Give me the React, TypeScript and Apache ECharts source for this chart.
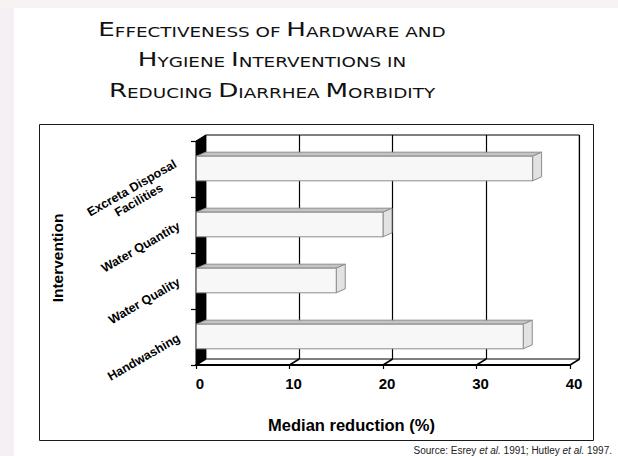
import React, { useEffect, useRef } from "react";
import * as echarts from "echarts";

const categories = ["Excreta Disposal\nFacilities", "Water Quantity", "Water Quality", "Handwashing"];
const reductions = [36, 20, 15, 35];
const xTicks = [0, 10, 20, 30, 40];
const titleLines = ["Effectiveness of Hardware and", "Hygiene Interventions in", "Reducing Diarrhea Morbidity"];
const xAxisName = "Median reduction (%)";
const yAxisName = "Intervention";
const sourceText = "{n|Source: Esrey }{i|et al.}{n| 1991; Hutley }{i|et al.}{n| 1997.}";

const FONT = "'Liberation Sans', Arial, sans-serif";
const TITLE_FONT = "'DejaVu Sans', sans-serif";
// 3D offsets
const WX = 9.7, WY = -6; // wall/floor depth
const BX = 9, BY = -4; // bar depth

function smallCaps(s: string): string {
  let out = "";
  let cur = "";
  let curType = "";
  const flush = () => {
    if (cur) out += `{${curType}|${cur}}`;
    cur = "";
  };
  for (const ch of s) {
    const isBig = ch !== " " && ch === ch.toUpperCase() && ch !== ch.toLowerCase();
    const t = isBig ? "big" : "small";
    if (t !== curType) {
      flush();
      curType = t;
    }
    cur += ch.toUpperCase();
  }
  flush();
  return out;
}

export default function App() {
  const ref = useRef<HTMLDivElement>(null);
  useEffect(() => {
    if (!ref.current) return;
    const chart = echarts.init(ref.current, undefined, { renderer: "svg" });
    const titleBaselines = [36.7, 66.7, 97.7];
    const titleRich = {
      big: { fontSize: 19.5, fontFamily: TITLE_FONT, fill: "#111", verticalAlign: "bottom" },
      small: { fontSize: 13.7, fontFamily: TITLE_FONT, fill: "#111", verticalAlign: "bottom" },
    };
    const option: any = {
      animation: false,
      backgroundColor: "#ffffff",
      graphic: [
        { type: "rect", z: -10, shape: { x: 0, y: 0, width: 14, height: 456 }, style: { fill: "#f4f0f3" } },
        { type: "rect", z: -10, shape: { x: 0, y: 0, width: 618, height: 8 }, style: { fill: "#f8f3f3" } },
        {
          type: "rect",
          z: -9,
          shape: { x: 39.5, y: 124.5, width: 554, height: 316 },
          style: { fill: "#ffffff", stroke: "#1a1a1a", lineWidth: 1 },
        },
        ...titleLines.map((line, i) => ({
          type: "text",
          x: 272,
          y: titleBaselines[i] + 3,
          scaleX: 1.34,
          style: {
            text: smallCaps(line),
            rich: titleRich,
            fill: "#111",
            align: "center",
            textAlign: "center",
            verticalAlign: "bottom",
            textVerticalAlign: "bottom",
          },
        })),
        {
          type: "text",
          x: 351.5,
          y: 425,
          style: {
            text: xAxisName,
            fontSize: 16.5,
            fontWeight: "bold",
            fontFamily: FONT,
            fill: "#000",
            align: "center",
            textAlign: "center",
            verticalAlign: "middle",
            textVerticalAlign: "middle",
          },
        },
        {
          type: "text",
          x: 57,
          y: 258,
          rotation: Math.PI / 2,
          style: {
            text: yAxisName,
            fontSize: 15.5,
            fontWeight: "bold",
            fontFamily: FONT,
            fill: "#000",
            align: "center",
            textAlign: "center",
            verticalAlign: "middle",
            textVerticalAlign: "middle",
          },
        },
        {
          type: "text",
          x: 612,
          y: 450.5,
          style: {
            text: sourceText,
            rich: {
              n: { fontSize: 10, fontFamily: FONT, fill: "#222" },
              i: { fontSize: 10, fontFamily: FONT, fill: "#222", fontStyle: "italic" },
            },
            align: "right",
            textAlign: "right",
            verticalAlign: "middle",
            textVerticalAlign: "middle",
          },
        },
      ],
      grid: [
        { left: 196, right: 48, top: 141, bottom: 91 },
        { left: 205.7, right: 38.7, top: 135, bottom: 97, show: true, borderColor: "#000", borderWidth: 1, backgroundColor: "transparent" },
      ],
      xAxis: [
        {
          type: "value",
          gridIndex: 0,
          min: 0,
          max: 40,
          interval: 10,
          axisLine: { show: true, lineStyle: { color: "#000", width: 1.8 } },
          axisTick: { show: true, length: 4, lineStyle: { color: "#000", width: 1.2 } },
          splitLine: { show: false },
          axisLabel: {
            color: "#000",
            fontSize: 15,
            fontWeight: "bold",
            fontFamily: FONT,
            margin: 11,
            padding: [0, 0, 0, 8],
          },
        },
        {
          type: "value",
          gridIndex: 1,
          min: 0,
          max: 40,
          interval: 10,
          axisLine: { show: false },
          axisTick: { show: false },
          axisLabel: { show: false },
          splitLine: { show: true, lineStyle: { color: "#000", width: 1.2 } },
        },
      ],
      yAxis: [
        {
          type: "category",
          gridIndex: 0,
          data: categories,
          inverse: true,
          axisLine: { show: true, lineStyle: { color: "#000", width: 1 } },
          axisTick: { show: true, length: 5, lineStyle: { color: "#000", width: 1.2 } },
          axisLabel: {
            rotate: 30,
            margin: 17,
            formatter: (v: string) => v.split("\n").map((l) => `{c|${l}}`).join("\n"),
            rich: {
              c: { fontSize: 12.5, fontWeight: "bold", fontFamily: FONT, color: "#000", align: "center", lineHeight: 14 },
            },
          },
        },
        {
          type: "category",
          gridIndex: 1,
          data: categories,
          inverse: true,
          show: false,
        },
      ],
      series: [
        {
          type: "custom",
          name: "frame",
          xAxisIndex: 0,
          yAxisIndex: 0,
          z: 3,
          silent: true,
          data: xTicks.map((v) => [v, 0]),
          encode: { x: 0, y: 1 },
          renderItem: (params: any, api: any) => {
            const cs = params.coordSys;
            const v = api.value(0);
            const p = api.coord([v, 0]);
            const bottom = cs.y + cs.height;
            const top = cs.y;
            const children: any[] = [
              {
                type: "line",
                shape: { x1: p[0], y1: bottom, x2: p[0] + WX, y2: bottom + WY },
                style: { stroke: "#000", lineWidth: 1.5 },
              },
            ];
            if (params.dataIndex === 0) {
              children.unshift({
                type: "polygon",
                shape: {
                  points: [
                    [cs.x, top],
                    [cs.x + WX, top + WY],
                    [cs.x + WX, bottom + WY],
                    [cs.x, bottom],
                  ],
                },
                style: { fill: "#000", stroke: "#000", lineWidth: 1 },
              });
            }
            return { type: "group", children };
          },
        },
        {
          type: "custom",
          name: "Median reduction",
          xAxisIndex: 0,
          yAxisIndex: 0,
          z: 5,
          data: reductions.map((v, i) => [v, i]),
          encode: { x: 0, y: 1 },
          renderItem: (params: any, api: any) => {
            const v = api.value(0);
            const idx = api.value(1);
            const s = api.coord([0, idx]);
            const e = api.coord([v, idx]);
            const band = api.size([0, 1])[1];
            const h = band * 0.44;
            const y0 = e[1] - h / 2 - 0.5;
            const x0 = s[0] + 0.5;
            const x1 = e[0];
            const stroke = "#8c8c8c";
            return {
              type: "group",
              children: [
                {
                  type: "polygon",
                  shape: { points: [[x0, y0], [x0 + BX, y0 + BY], [x1 + BX, y0 + BY], [x1, y0]] },
                  style: { fill: "#c4c4c4", stroke, lineWidth: 1 },
                },
                {
                  type: "polygon",
                  shape: { points: [[x1, y0], [x1 + BX, y0 + BY], [x1 + BX, y0 + h + BY], [x1, y0 + h]] },
                  style: { fill: "#e2e2e2", stroke, lineWidth: 1 },
                },
                {
                  type: "rect",
                  shape: { x: x0, y: y0, width: x1 - x0, height: h },
                  style: { fill: "#f7f7f7", stroke, lineWidth: 1 },
                },
              ],
            };
          },
        },
      ],
    };
    chart.setOption(option);
    return () => chart.dispose();
  }, []);
  return <div ref={ref} style={{ position: "fixed", left: 0, top: 0, width: 618, height: 456 }} />;
}
